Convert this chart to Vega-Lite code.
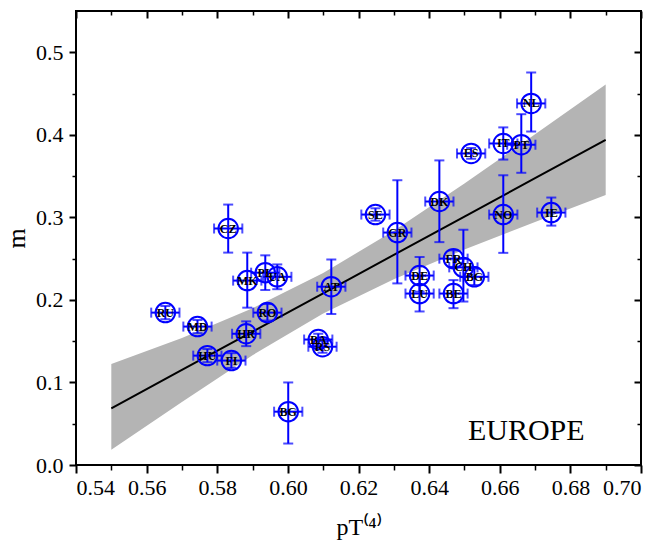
{
  "$schema": "https://vega.github.io/schema/vega-lite/v6.json",
  "width": 565,
  "height": 454,
  "autosize": {"type": "none"},
  "padding": {"left": 76, "top": 11, "right": 22, "bottom": 81},
  "background": "white",
  "config": {
    "view": {"stroke": "black", "strokeWidth": 2},
    "axis": {
      "grid": false,
      "domain": false,
      "tickColor": "black",
      "tickWidth": 2,
      "labelFont": "Liberation Serif",
      "labelFontSize": 22,
      "labelColor": "black",
      "titleFont": "Liberation Serif",
      "titleFontSize": 24,
      "titleFontWeight": "normal",
      "titleColor": "black"
    }
  },
  "datasets": {
    "pts": [
      {"c": "RU", "p": 0.5653, "m": 0.1846, "pLo": 0.5613, "pHi": 0.5693, "mLo": 0.1766, "mHi": 0.1926},
      {"c": "MD", "p": 0.5744, "m": 0.1677, "pLo": 0.5704, "pHi": 0.5784, "mLo": 0.1597, "mHi": 0.1757},
      {"c": "HU", "p": 0.5772, "m": 0.1325, "pLo": 0.5732, "pHi": 0.5812, "mLo": 0.1245, "mHi": 0.1405},
      {"c": "FI", "p": 0.5840, "m": 0.1265, "pLo": 0.5800, "pHi": 0.5880, "mLo": 0.1175, "mHi": 0.1355},
      {"c": "HR", "p": 0.5882, "m": 0.1590, "pLo": 0.5842, "pHi": 0.5922, "mLo": 0.1440, "mHi": 0.1740},
      {"c": "MK", "p": 0.5885, "m": 0.2234, "pLo": 0.5845, "pHi": 0.5925, "mLo": 0.1906, "mHi": 0.2573},
      {"c": "CZ", "p": 0.5831, "m": 0.2865, "pLo": 0.5791, "pHi": 0.5871, "mLo": 0.2573, "mHi": 0.3155},
      {"c": "PL", "p": 0.5936, "m": 0.2330, "pLo": 0.5896, "pHi": 0.5976, "mLo": 0.2120, "mHi": 0.2540},
      {"c": "UA", "p": 0.5970, "m": 0.2280, "pLo": 0.5930, "pHi": 0.6010, "mLo": 0.2130, "mHi": 0.2430},
      {"c": "RO", "p": 0.5942, "m": 0.1846, "pLo": 0.5902, "pHi": 0.5982, "mLo": 0.1750, "mHi": 0.1950},
      {"c": "BG", "p": 0.6001, "m": 0.0646, "pLo": 0.5961, "pHi": 0.6041, "mLo": 0.0260, "mHi": 0.1000},
      {"c": "BA", "p": 0.6086, "m": 0.1520, "pLo": 0.6046, "pHi": 0.6126, "mLo": 0.1450, "mHi": 0.1590},
      {"c": "RS", "p": 0.6098, "m": 0.1433, "pLo": 0.6058, "pHi": 0.6138, "mLo": 0.1360, "mHi": 0.1500},
      {"c": "AT", "p": 0.6123, "m": 0.2160, "pLo": 0.6083, "pHi": 0.6163, "mLo": 0.1830, "mHi": 0.2490},
      {"c": "SE", "p": 0.6248, "m": 0.3034, "pLo": 0.6208, "pHi": 0.6288, "mLo": 0.2960, "mHi": 0.3110},
      {"c": "GR", "p": 0.6310, "m": 0.2816, "pLo": 0.6270, "pHi": 0.6350, "mLo": 0.2200, "mHi": 0.3450},
      {"c": "DK", "p": 0.6429, "m": 0.3192, "pLo": 0.6389, "pHi": 0.6469, "mLo": 0.2700, "mHi": 0.3690},
      {"c": "DE", "p": 0.6373, "m": 0.2295, "pLo": 0.6333, "pHi": 0.6413, "mLo": 0.2100, "mHi": 0.2520},
      {"c": "LU", "p": 0.6373, "m": 0.2077, "pLo": 0.6333, "pHi": 0.6413, "mLo": 0.1860, "mHi": 0.2290},
      {"c": "FR", "p": 0.6469, "m": 0.2500, "pLo": 0.6429, "pHi": 0.6509, "mLo": 0.2400, "mHi": 0.2600},
      {"c": "CH", "p": 0.6497, "m": 0.2394, "pLo": 0.6457, "pHi": 0.6537, "mLo": 0.1980, "mHi": 0.2850},
      {"c": "BG", "p": 0.6528, "m": 0.2280, "pLo": 0.6488, "pHi": 0.6568, "mLo": 0.2180, "mHi": 0.2380},
      {"c": "BE", "p": 0.6469, "m": 0.2077, "pLo": 0.6429, "pHi": 0.6509, "mLo": 0.1900, "mHi": 0.2240},
      {"c": "ES", "p": 0.6519, "m": 0.3774, "pLo": 0.6479, "pHi": 0.6559, "mLo": 0.3710, "mHi": 0.3840},
      {"c": "IT", "p": 0.6610, "m": 0.3895, "pLo": 0.6570, "pHi": 0.6650, "mLo": 0.3700, "mHi": 0.4090},
      {"c": "PT", "p": 0.6661, "m": 0.3880, "pLo": 0.6621, "pHi": 0.6701, "mLo": 0.3540, "mHi": 0.4250},
      {"c": "NL", "p": 0.6689, "m": 0.4380, "pLo": 0.6649, "pHi": 0.6729, "mLo": 0.4040, "mHi": 0.4755},
      {"c": "NO", "p": 0.6610, "m": 0.3034, "pLo": 0.6570, "pHi": 0.6650, "mLo": 0.2570, "mHi": 0.3510},
      {"c": "IE", "p": 0.6746, "m": 0.3058, "pLo": 0.6706, "pHi": 0.6786, "mLo": 0.2900, "mHi": 0.3240}
    ],
    "band": [
      {"x": 0.55, "lo": 0.0185, "hi": 0.1224, "fit": 0.0686},
      {"x": 0.57, "lo": 0.0763, "hi": 0.1539, "fit": 0.1151},
      {"x": 0.59, "lo": 0.1330, "hi": 0.1900, "fit": 0.1616},
      {"x": 0.61, "lo": 0.1835, "hi": 0.2325, "fit": 0.2080},
      {"x": 0.63, "lo": 0.2251, "hi": 0.2839, "fit": 0.2545},
      {"x": 0.65, "lo": 0.2610, "hi": 0.3410, "fit": 0.3010},
      {"x": 0.67, "lo": 0.2944, "hi": 0.4006, "fit": 0.3475},
      {"x": 0.69, "lo": 0.3270, "hi": 0.4610, "fit": 0.3940}
    ],
    "note": [
      {"t": "EUROPE", "x": 0.6675, "y": 0.0416}
    ]
  },
  "resolve": {"axis": {"x": "independent", "y": "independent"}},
  "layer": [
    {
      "data": {"name": "band"},
      "mark": {"type": "area", "color": "#b4b4b4", "opacity": 1},
      "encoding": {
        "x": {"field": "x", "type": "quantitative",
              "scale": {"domain": [0.54, 0.70], "nice": false, "zero": false},
              "axis": {"orient": "bottom", "values": [0.54, 0.56, 0.58, 0.60, 0.62, 0.64, 0.66, 0.68, 0.70], "format": ".2f", "tickSize": 8, "labelPadding": 4, "labelFont": "Liberation Serif", "labelFontSize": 22, "title": "pT⁽⁴⁾", "titleFont": "Liberation Serif", "titleFontSize": 24, "titlePadding": 17}},
        "y": {"field": "lo", "type": "quantitative",
              "scale": {"domain": [0, 0.55], "nice": false, "zero": false},
              "axis": {"orient": "left", "values": [0, 0.1, 0.2, 0.3, 0.4, 0.5], "format": ".1f", "tickSize": 7, "labelPadding": 6, "labelFont": "Liberation Serif", "labelFontSize": 22, "title": "m", "titleFont": "Liberation Serif", "titleFontSize": 26, "titlePadding": 6}},
        "y2": {"field": "hi"}
      }
    },
    {
      "data": {"name": "band"},
      "mark": {"type": "line", "color": "black", "strokeWidth": 2},
      "encoding": {
        "x": {"field": "x", "type": "quantitative",
              "scale": {"domain": [0.54, 0.70], "nice": false, "zero": false},
              "axis": {"orient": "bottom", "values": [0.55, 0.57, 0.59, 0.61, 0.63, 0.65, 0.67, 0.69], "labels": false, "tickSize": 5, "tickWidth": 1.5, "title": null}},
        "y": {"field": "fit", "type": "quantitative",
              "scale": {"domain": [0, 0.55], "nice": false, "zero": false},
              "axis": {"orient": "left", "values": [0.05, 0.15, 0.25, 0.35, 0.45], "labels": false, "tickSize": 4, "tickWidth": 1.5, "title": null}}
      }
    },
    {
      "data": {"name": "pts"},
      "mark": {"type": "errorbar", "ticks": {"size": 10, "thickness": 2, "color": "#0000ff"}, "rule": {"strokeWidth": 2, "color": "#0000ff"}},
      "encoding": {
        "x": {"field": "pLo", "type": "quantitative",
              "scale": {"domain": [0.54, 0.70], "nice": false, "zero": false},
              "axis": {"orient": "top", "values": [0.54, 0.56, 0.58, 0.60, 0.62, 0.64, 0.66, 0.68, 0.70], "labels": false, "tickSize": -7, "title": null}},
        "x2": {"field": "pHi"},
        "y": {"field": "m", "type": "quantitative",
              "scale": {"domain": [0, 0.55], "nice": false, "zero": false},
              "axis": {"orient": "right", "values": [0, 0.1, 0.2, 0.3, 0.4, 0.5], "labels": false, "tickSize": -7, "title": null}}
      }
    },
    {
      "data": {"name": "pts"},
      "mark": {"type": "errorbar", "ticks": {"size": 10, "thickness": 2, "color": "#0000ff"}, "rule": {"strokeWidth": 2, "color": "#0000ff"}},
      "encoding": {
        "x": {"field": "p", "type": "quantitative",
              "scale": {"domain": [0.54, 0.70], "nice": false, "zero": false},
              "axis": {"orient": "top", "values": [0.55, 0.57, 0.59, 0.61, 0.63, 0.65, 0.67, 0.69], "labels": false, "tickSize": -4, "tickWidth": 1.5, "title": null}},
        "y": {"field": "mLo", "type": "quantitative",
              "scale": {"domain": [0, 0.55], "nice": false, "zero": false},
              "axis": {"orient": "right", "values": [0.05, 0.15, 0.25, 0.35, 0.45], "labels": false, "tickSize": -4, "tickWidth": 1.5, "title": null}},
        "y2": {"field": "mHi"}
      }
    },
    {
      "data": {"name": "pts"},
      "mark": {"type": "point", "shape": "circle", "filled": false, "size": 380, "stroke": "#0000ff", "strokeWidth": 2, "opacity": 1},
      "encoding": {
        "x": {"field": "p", "type": "quantitative", "scale": {"domain": [0.54, 0.70], "nice": false, "zero": false}, "axis": null},
        "y": {"field": "m", "type": "quantitative", "scale": {"domain": [0, 0.55], "nice": false, "zero": false}, "axis": null}
      }
    },
    {
      "data": {"name": "pts"},
      "mark": {"type": "text", "font": "Liberation Serif", "fontWeight": "bold", "fontSize": 12, "color": "black", "baseline": "middle", "align": "center"},
      "encoding": {
        "x": {"field": "p", "type": "quantitative", "scale": {"domain": [0.54, 0.70], "nice": false, "zero": false}, "axis": null},
        "y": {"field": "m", "type": "quantitative", "scale": {"domain": [0, 0.55], "nice": false, "zero": false}, "axis": null},
        "text": {"field": "c", "type": "nominal"}
      }
    },
    {
      "data": {"name": "note"},
      "mark": {"type": "text", "font": "Liberation Serif", "fontSize": 30, "color": "black", "baseline": "middle", "align": "center"},
      "encoding": {
        "x": {"field": "x", "type": "quantitative", "scale": {"domain": [0.54, 0.70], "nice": false, "zero": false}, "axis": null},
        "y": {"field": "y", "type": "quantitative", "scale": {"domain": [0, 0.55], "nice": false, "zero": false}, "axis": null},
        "text": {"field": "t", "type": "nominal"}
      }
    }
  ]
}
